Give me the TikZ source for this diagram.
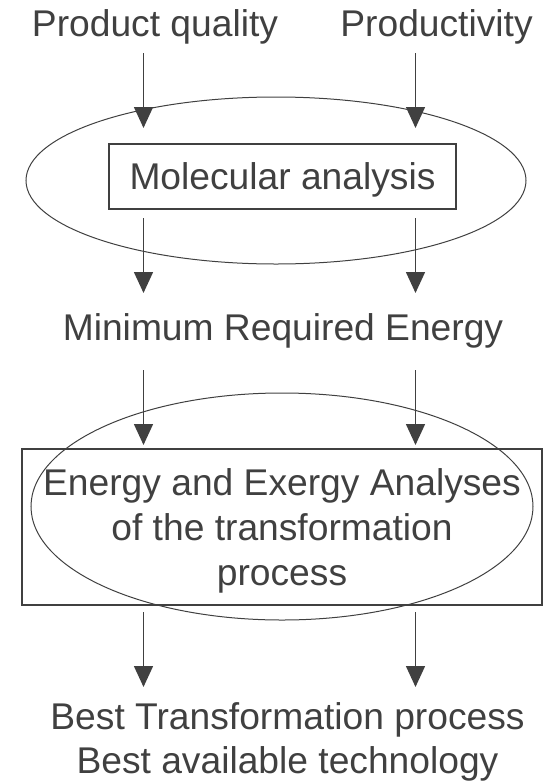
\documentclass[tikz,border=0pt]{standalone}
\usepackage{fontspec}
\setmainfont{Liberation Sans}
\usetikzlibrary{shapes.geometric, arrows.meta}
\definecolor{ink}{HTML}{404040}

\begin{document}
\begin{tikzpicture}[
                x=0.5pt, y=-0.5pt,
                every node/.style={text=ink, font=\fontsize{18.6}{22.5}\selectfont},
                label/.style={align=center, inner sep=0pt},
                box/.style={rectangle, draw=ink, line width=0.65pt, align=center, inner sep=0pt, text depth=0pt},
                oval/.style={ellipse, draw=ink, line width=0.5pt, inner sep=0pt},
                line/.style={draw=ink, line width=0.75pt, -{Triangle[length=10.5pt, width=9.5pt]}}
            ]
                \useasboundingbox (0,0) rectangle (545,782);

                % Inputs
                \node[label] (qual) at (155,27.3) {Product quality};
                \node[label] (prod) at (436.5,27.3) {Productivity};

                % Molecular level
                \node[oval, minimum width=250pt, minimum height=83.5pt] (molring) at (276,180.5) {};
                \node[box, minimum width=173.5pt, minimum height=32.5pt] (mol) at (282.5,176.5) {Molecular analysis};

                \node[label] (mre) at (283,330.6) {Minimum Required Energy};

                % Process level
                \node[oval, minimum width=251pt, minimum height=113.5pt] (procring) at (282,506.5) {};
                \node[box, minimum width=260pt, minimum height=78pt] (proc) at (282,527) {Energy and Exergy Analyses \\ of the transformation \\ process};

                \node[label, font=\fontsize{18.6}{22}\selectfont] (best) at (287.5,741.6) {Best Transformation process \\ Best available technology};

                % arrow ends
                \foreach \n/\ys/\ye in {in/53/128, out/218/293, mid/370/445, end/612/687} {
                    \coordinate (\n-l0) at (143.5,\ys);
                    \coordinate (\n-l1) at (143.5,\ye);
                    \coordinate (\n-r0) at (415.5,\ys);
                    \coordinate (\n-r1) at (415.5,\ye);
                }

                \path[line] (in-l0) -- (in-l1);
                \path[line] (in-r0) -- (in-r1);
                \path[line] (out-l0) -- (out-l1);
                \path[line] (out-r0) -- (out-r1);
                \path[line] (mid-l0) -- (mid-l1);
                \path[line] (mid-r0) -- (mid-r1);
                \path[line] (end-l0) -- (end-l1);
                \path[line] (end-r0) -- (end-r1);
            \end{tikzpicture}
\end{document}
